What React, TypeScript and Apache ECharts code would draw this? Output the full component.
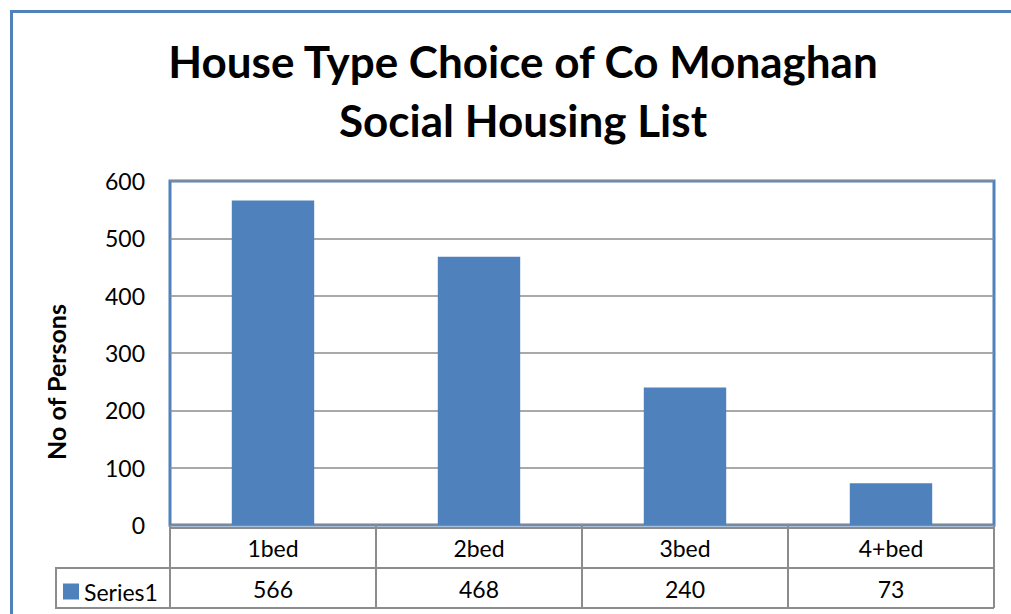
import React, { useEffect, useRef } from "react";
import * as echarts from "echarts";

const titleLines = ["House Type Choice of Co Monaghan", "Social Housing List"];
const categories = ["1bed", "2bed", "3bed", "4+bed"];
const seriesName = "Series1";
const values = [566, 468, 240, 73];
const yAxisName = "No of Persons";
const yMin = 0;
const yMax = 600;
const yInterval = 100;

const FONT = "Lato, 'Open Sans', sans-serif";
const BLUE = "#4f81bd";
const GRAY = "#8c8c8c";

export default function App() {
  const ref = useRef<HTMLDivElement>(null);
  useEffect(() => {
    if (!ref.current) return;
    const chart = echarts.init(ref.current, null, { renderer: "svg" });
    const L = 170, R = 994, T = 181, B = 525;
    const option: any = {
      animation: false,
      textStyle: { fontFamily: FONT },
      title: {
        text: titleLines.join("\n"),
        left: 518,
        textAlign: "center",
        top: 26,
        textStyle: { fontFamily: FONT, fontWeight: "bold", fontSize: 44, lineHeight: 59, color: "#000" },
      },
      legend: {
        data: [seriesName],
        left: 63,
        top: 580,
        icon: "rect",
        itemWidth: 16,
        itemHeight: 16,
        itemGap: 6,
        textStyle: { fontFamily: FONT, fontSize: 23, color: "#000", padding: [0, 0, 0, 0] },
        padding: 0,
      },
      grid: {
        left: L,
        right: 1011 - R,
        top: T,
        bottom: 614 - B,
        show: true,
        borderColor: BLUE,
        borderWidth: 3,
        containLabel: false,
      },
      xAxis: {
        type: "category",
        data: categories,
        boundaryGap: true,
        axisLine: { show: false },
        axisTick: { show: true, length: 83, lineStyle: { color: GRAY, width: 2 } },
        axisLabel: {
          margin: 2,
          interval: 0,
          formatter: (v: string, i: number) => `{a|${v}}\n{a|${values[i]}}`,
          rich: {
            a: { fontFamily: FONT, fontSize: 23, color: "#000", lineHeight: 41, align: "center" },
          },
        },
      },
      yAxis: {
        type: "value",
        min: yMin,
        max: yMax,
        interval: yInterval,
        name: yAxisName,
        nameLocation: "middle",
        nameGap: 102,
        nameRotate: 90,
        nameTextStyle: { fontFamily: FONT, fontWeight: "bold", fontSize: 25, color: "#000", padding: [0, 58, 0, 0] },
        axisLine: { show: false },
        axisTick: { show: false },
        axisLabel: { fontFamily: FONT, fontSize: 23, color: "#000", margin: 25 },
        splitLine: { show: true, lineStyle: { color: GRAY, width: 1.5 } },
      },
      series: [
        {
          name: seriesName,
          type: "bar",
          data: values,
          barWidth: "40%",
          itemStyle: { color: BLUE },
        },
      ],
      graphic: [
        { type: "line", shape: { x1: 11.5, y1: 10, x2: 11.5, y2: 614 }, style: { stroke: BLUE, lineWidth: 3 } },
        { type: "line", shape: { x1: 10, y1: 11.5, x2: 1011, y2: 11.5 }, style: { stroke: BLUE, lineWidth: 3 } },
        { type: "line", shape: { x1: L, y1: 528, x2: R, y2: 528 }, style: { stroke: GRAY, lineWidth: 2 } },
        { type: "line", shape: { x1: 55, y1: 568, x2: R, y2: 568 }, style: { stroke: GRAY, lineWidth: 2 } },
        { type: "line", shape: { x1: 55, y1: 608, x2: R, y2: 608 }, style: { stroke: GRAY, lineWidth: 2 } },
        { type: "line", shape: { x1: 56, y1: 568, x2: 56, y2: 608 }, style: { stroke: GRAY, lineWidth: 2 } },
      ],
    };
    chart.setOption(option);
    return () => chart.dispose();
  }, []);
  return <div ref={ref} style={{ width: 1011, height: 614, position: "absolute", left: 0, top: 0 }} />;
}
